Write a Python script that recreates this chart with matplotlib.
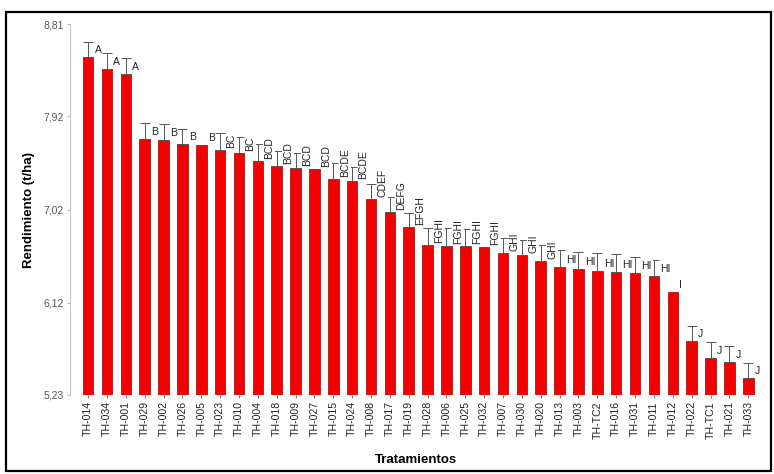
import matplotlib
matplotlib.use('Agg')
import matplotlib.pyplot as plt
import numpy as np
from matplotlib.patches import Rectangle

plt.rcParams['font.family'] = ['Liberation Sans', 'DejaVu Sans']

# treatments, sorted by yield
tratamientos = ['TH-014', 'TH-034', 'TH-001', 'TH-029', 'TH-002', 'TH-026', 'TH-005',
                'TH-023', 'TH-010', 'TH-004', 'TH-018', 'TH-009', 'TH-027', 'TH-015',
                'TH-024', 'TH-008', 'TH-017', 'TH-019', 'TH-028', 'TH-006', 'TH-025',
                'TH-032', 'TH-007', 'TH-030', 'TH-020', 'TH-013', 'TH-003', 'TH-TC2',
                'TH-016', 'TH-031', 'TH-011', 'TH-012', 'TH-022', 'TH-TC1', 'TH-021',
                'TH-033']
rendimiento = [8.49, 8.38, 8.33, 7.70, 7.69, 7.65, 7.64, 7.60, 7.57, 7.49, 7.44, 7.42,
               7.41, 7.32, 7.30, 7.12, 7.00, 6.85, 6.68, 6.67, 6.67, 6.66, 6.60, 6.58,
               6.52, 6.47, 6.45, 6.43, 6.42, 6.41, 6.38, 6.22, 5.75, 5.59, 5.55, 5.39]
# upper error only (0 = no bar drawn)
error = [0.15, 0.15, 0.15, 0.16, 0.16, 0.15, 0.0, 0.16, 0.15, 0.16, 0.15, 0.15,
         0.0, 0.15, 0.13, 0.15, 0.14, 0.14, 0.16, 0.17, 0.16, 0.0, 0.15, 0.15,
         0.16, 0.16, 0.16, 0.17, 0.17, 0.15, 0.15, 0.0, 0.15, 0.15, 0.15, 0.15]
letras = ['A', 'A', 'A', 'B', 'B', 'B', 'B', 'BC', 'BC', 'BCD', 'BCD', 'BCD', 'BCD',
          'BCDE', 'BCDE', 'CDEF', 'DEFG', 'EFGH', 'FGHI', 'FGHI', 'FGHI', 'FGHI',
          'GHI', 'GHI', 'GHI', 'HI', 'HI', 'HI', 'HI', 'HI', 'HI', 'I', 'J', 'J', 'J', 'J']
yticks = [5.23, 6.12, 7.02, 7.92, 8.81]

fig = plt.figure(figsize=(7.74, 4.74), dpi=100)
ax = fig.add_axes([0.0904, 0.1667, 0.8946, 0.782])

x = np.arange(len(tratamientos))
vals = np.array(rendimiento)
err = np.array(error)

ax.bar(x, vals, width=0.56, color='#f40000', edgecolor='#a00000', linewidth=0.5, zorder=2)

m = err > 0
ax.errorbar(x[m], vals[m], yerr=[np.zeros(m.sum()), err[m]], fmt='none',
            ecolor='#555555', elinewidth=0.7, capsize=3.6, capthick=0.7, zorder=3)

# significance letters, white box hides part of the neighbouring caps
for i, (v, lab) in enumerate(zip(vals, letras)):
    rot = 90 if (len(lab) > 2 or lab == 'BC') else 0
    ax.text(i + 0.34, v + 0.02, lab, rotation=rot, ha='left', va='bottom',
            fontsize=7.5, color='#222222', zorder=4,
            bbox=dict(facecolor='white', edgecolor='none', pad=0.6))

ax.set_ylim(yticks[0], yticks[-1])
ax.set_xlim(-0.96, 35.75)
ax.set_yticks(yticks)
ax.set_yticklabels([('%.2f' % t).replace('.', ',') for t in yticks], fontsize=7.5, color='#555555')
ax.set_xticks(x)
ax.set_xticklabels(tratamientos, rotation=90, fontsize=7.6, color='#222222')
ax.tick_params(axis='y', length=2.5, color='#bbbbbb', pad=2)
ax.tick_params(axis='x', length=2.5, color='#777777', pad=2)

for s in ['top', 'right', 'bottom']:
    ax.spines[s].set_visible(False)
ax.spines['left'].set_color('#c8c8c8')
ax.spines['left'].set_linewidth(0.8)

ax.set_ylabel('Rendimiento (t/ha)', fontsize=9.5, fontweight='bold', labelpad=6)
ax.set_xlabel('Tratamientos', fontsize=9.5, fontweight='bold', labelpad=11)

# black frame around the whole figure
fig.patches.append(Rectangle((6 / 774, 3 / 474), 765 / 774, 459 / 474, transform=fig.transFigure,
                             fill=False, edgecolor='black', linewidth=1.6))

fig.savefig('out.png', dpi=100)
